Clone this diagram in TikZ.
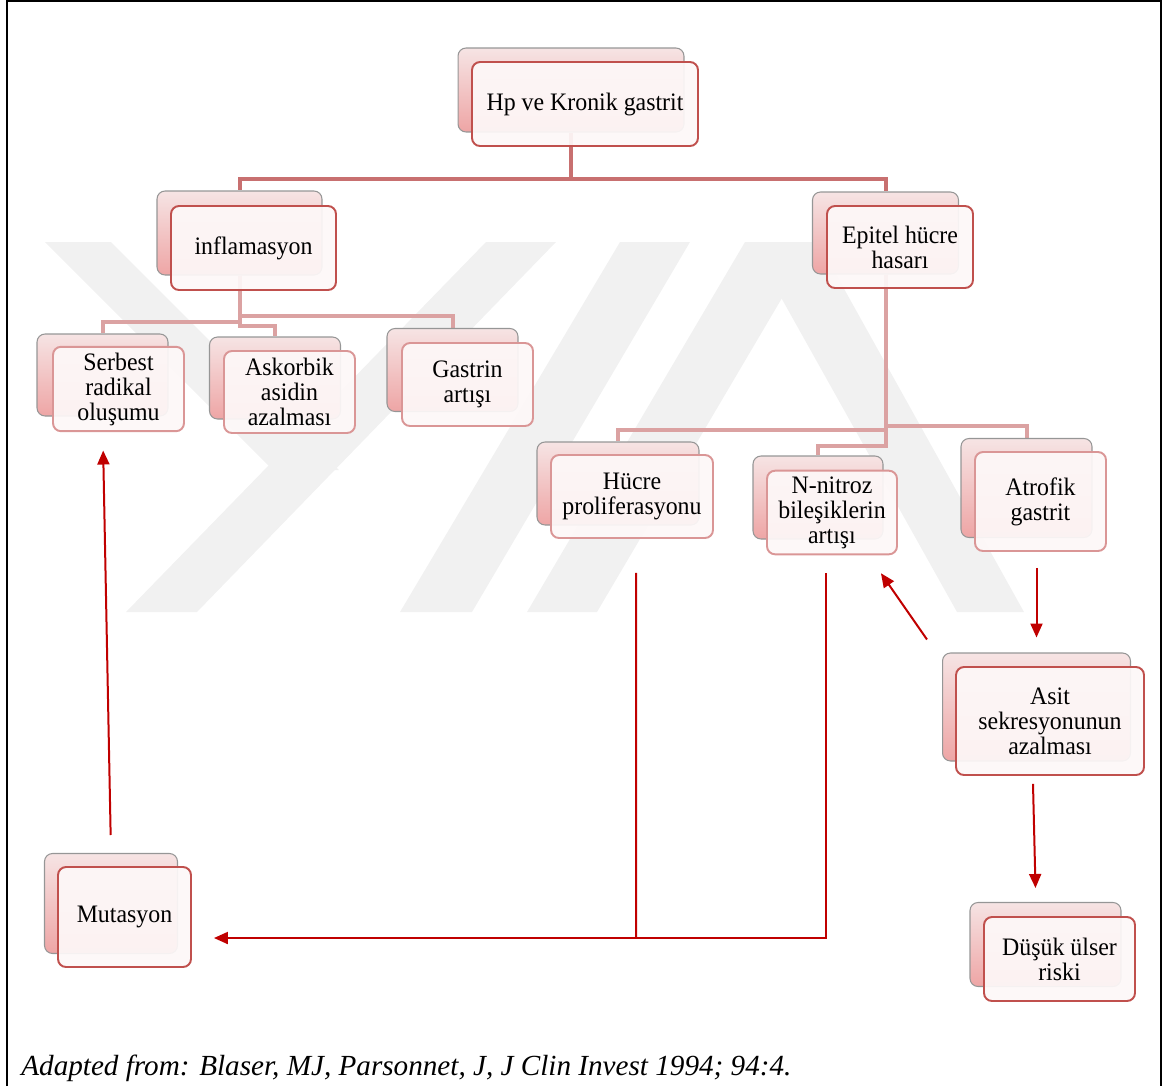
\documentclass[tikz,border=0pt]{standalone}
\usepackage{fontspec}
\setmainfont{Liberation Serif}[FakeStretch=0.95]
\newfontfamily\kaynakfont{Liberation Serif}
\usetikzlibrary{arrows.meta}
\pgfdeclarelayer{arka}
\pgfsetlayers{arka,main}
\definecolor{koyu}{RGB}{192,80,77}
\definecolor{acik}{RGB}{218,150,150}
\definecolor{cizgi1}{RGB}{200,112,112}
\definecolor{cizgi2}{RGB}{219,162,162}
\definecolor{oku}{RGB}{192,0,0}
\definecolor{ic}{RGB}{253,248,248}
\definecolor{golge}{RGB}{150,150,150}
\definecolor{pembe1}{RGB}{246,228,228}
\definecolor{pembe2}{RGB}{238,165,165}
\definecolor{filigran}{RGB}{241,241,241}
\begin{document}
\begin{tikzpicture}[x=0.02cm,y=-0.02cm,>={Triangle[length=0.28cm,width=0.24cm]},
	altkutu/.style={rounded corners=0.16cm,draw=golge,line width=0.6pt,top color=pembe1,bottom color=pembe2},
	ustkutu/.style={rounded corners=0.16cm,fill=ic,fill opacity=0.93,text opacity=1,line width=1.1pt,align=center,font=\fontsize{14.3}{14.2}\selectfont},
	koyukutu/.style={ustkutu,draw=koyu},
	acikkutu/.style={ustkutu,draw=acik},
	bag1/.style={cizgi1,line width=0.08cm},
	bag2/.style={cizgi2,line width=0.08cm},
	ok/.style={oku,line width=0.04cm}]
	\useasboundingbox (0,0) rectangle (1163,1086);
	%Cerceve
	\draw[line width=0.04cm] (7,1086) -- (7,1) -- (1161,1) -- (1161,1086);
	%Filigran
	\begin{pgfonlayer}{arka}
	\fill[filigran] (126,612) -- (197,612) -- (556,242) -- (486,242) -- cycle;
	\fill[filigran] (45,242) -- (111,242) -- (339,470) -- (273,470) -- cycle;
	\fill[filigran] (400,612) -- (472,612) -- (690,242) -- (620,242) -- cycle;
	\fill[filigran] (527,612) -- (597,612) -- (815,242) -- (745,242) -- cycle;
	\fill[filigran] (750,242) -- (818,242) -- (1024,612) -- (957,612) -- cycle;
	\end{pgfonlayer}
	%Kutu 1
	\node[altkutu,minimum width=4.52cm,minimum height=1.68cm] (hp-b) at (571,90) {};
	\node[koyukutu,minimum width=4.52cm,minimum height=1.68cm] (hp) at (585,104) {Hp ve Kronik gastrit};
	%Kutu 2.1
	\node[altkutu,minimum width=3.3cm,minimum height=1.68cm] (inf-b) at (239.5,233) {};
	\node[koyukutu,minimum width=3.3cm,minimum height=1.68cm] (inf) at (253.5,248) {inflamasyon};
	%Kutu 2.2
	\node[altkutu,minimum width=2.92cm,minimum height=1.64cm] (epi-b) at (885.5,233) {};
	\node[koyukutu,minimum width=2.92cm,minimum height=1.64cm] (epi) at (900,247) {Epitel hücre\\hasarı};
	%Kutu 3.1
	\node[altkutu,minimum width=2.62cm,minimum height=1.64cm] (ser-b) at (102.5,375) {};
	\node[acikkutu,minimum width=2.62cm,minimum height=1.64cm] (ser) at (118.5,389) {Serbest\\radikal\\oluşumu};
	%Kutu 3.2
	\node[altkutu,minimum width=2.62cm,minimum height=1.64cm] (ask-b) at (275,378) {};
	\node[acikkutu,minimum width=2.62cm,minimum height=1.64cm] (ask) at (289.5,392) {Askorbik\\asidin\\azalması};
	%Kutu 3.3
	\node[altkutu,minimum width=2.62cm,minimum height=1.66cm] (gas-b) at (452.5,370) {};
	\node[acikkutu,minimum width=2.62cm,minimum height=1.66cm] (gas) at (467.5,384.5) {Gastrin\\artışı};
	%Kutu 3.4
	\node[altkutu,minimum width=3.24cm,minimum height=1.66cm] (huc-b) at (618,483.5) {};
	\node[acikkutu,minimum width=3.24cm,minimum height=1.66cm] (huc) at (632,496.5) {Hücre\\proliferasyonu};
	%Kutu 3.5
	\node[altkutu,minimum width=2.6cm,minimum height=1.66cm] (nit-b) at (818,497.5) {};
	\node[acikkutu,minimum width=2.6cm,minimum height=1.66cm] (nit) at (832,512.5) {N-nitroz\\bileşiklerin\\artışı};
	%Kutu 3.6
	\node[altkutu,minimum width=2.62cm,minimum height=1.98cm] (atr-b) at (1026.5,488) {};
	\node[acikkutu,minimum width=2.62cm,minimum height=1.98cm] (atr) at (1040.5,501.5) {Atrofik\\gastrit};
	%Kutu 4
	\node[altkutu,minimum width=3.76cm,minimum height=2.16cm] (asit-b) at (1036.5,707) {};
	\node[koyukutu,minimum width=3.76cm,minimum height=2.16cm] (asit) at (1050,721) {Asit\\sekresyonunun\\azalması};
	%Kutu 5
	\node[altkutu,minimum width=2.66cm,minimum height=2cm] (mut-b) at (111,903.5) {};
	\node[koyukutu,minimum width=2.66cm,minimum height=2cm] (mut) at (124.5,917) {Mutasyon};
	%Kutu 6
	\node[altkutu,minimum width=3.02cm,minimum height=1.68cm] (dus-b) at (1045.5,944.5) {};
	\node[koyukutu,minimum width=3.02cm,minimum height=1.68cm] (dus) at (1059.5,959) {Düşük ülser\\riski};
	%Baglantilar
	\begin{pgfonlayer}{arka}
	\draw[bag1] (hp-b.south) -- ++(0,46) -| (inf-b.north);
	\draw[bag1] (hp-b.south) -- ++(0,46) -| (epi-b.north);
	\draw[bag2] (inf-b.south) -- ++(0,40) -| (gas-b.north);
	\draw[bag2] (inf-b.south) -- ++(0,46) -| (ser-b.north);
	\draw[bag2] (inf-b.south) -- ++(0,50) -| (ask-b.north);
	\draw[bag2] (epi-b.south) -- ++(0,151) -| (atr-b.north);
	\draw[bag2] (epi-b.south) -- ++(0,155) -| (huc-b.north);
	\draw[bag2] (epi-b.south) -- ++(0,171) -| (nit-b.north);
	\end{pgfonlayer}
	%Oklar
	\draw[ok,->,shorten <=0.36cm,shorten >=0.68cm] (mut-b.north) -- (ser-b.south);
	\coordinate (h1) at ([xshift=0.08cm,yshift=-0.68cm]huc.south);
	\coordinate (n1) at ([xshift=-0.12cm,yshift=-0.36cm]nit.south);
	\coordinate (b1) at (636,938);
	\draw[ok] (h1) -- (b1);
	\draw[ok,->,shorten >=0.44cm] (n1) |- (b1) -- (b1 -| mut.east);
	\draw[ok,->] ([yshift=-0.32cm]atr.south -| asit-b.north) -- ([yshift=0.3cm]asit-b.north);
	\draw[ok,->] ([shift={(-15,-13)}]asit-b.north west) -- ([shift={(-17,18)}]nit.south east);
	\draw[ok,->] ([shift={(-17,8)}]asit.south) -- ([shift={(-10,-14)}]dus-b.north);
	%Kaynak
	\node[anchor=base west,inner sep=0pt,font=\kaynakfont\fontsize{16.6}{19}\selectfont\itshape] (kaynak) at (21,1075) {Adapted from: Blaser, MJ, Parsonnet, J, J Clin Invest 1994; 94:4.};
\end{tikzpicture}
\end{document}
